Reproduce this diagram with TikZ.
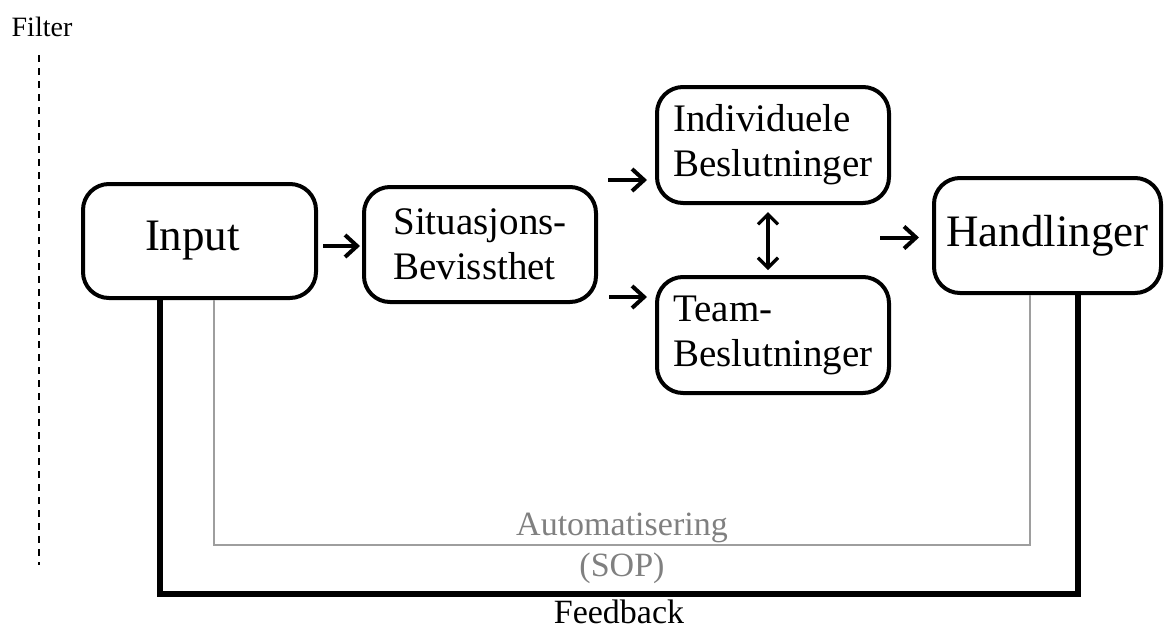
\documentclass[tikz,border=0pt]{standalone}
\usepackage{fontspec}
\setmainfont{Liberation Serif}
\usetikzlibrary{positioning,arrows.meta,calc}
\tikzset{
  box/.style  = {rectangle, draw, rounded corners=13pt, line width=2pt,
                 minimum width=116pt, minimum height=58pt,
                 align=left, inner sep=0pt,
                 font=\fontsize{19.5}{22.5}\selectfont},
  big/.style  = {box, font=\fontsize{22.5}{26}\selectfont},
  arr/.style  = {-{Straight Barb[length=6pt,width=11pt]}, line width=2pt},
  dbl/.style  = {{Straight Barb[length=5pt,width=10pt]}-{Straight Barb[length=5pt,width=10pt]}, line width=1.6pt},
  fb/.style   = {line width=2.75pt},
  auto/.style = {line width=0.9pt, draw=black!38},
  lab/.style  = {font=\fontsize{17}{20}\selectfont, anchor=base, inner sep=0pt},
  glab/.style = {lab, text=black!50}
}

\begin{document}
\begin{tikzpicture}[x=0.5pt,y=-0.5pt]
  \useasboundingbox (0,0) rectangle (1164,628);
  \node[lab,font=\fontsize{14}{16}\selectfont] (filter) at (42,36) {Filter};
  \draw[line width=1pt,dash pattern=on 3.5pt off 3pt] (39,55) -- (39,565);
  \node[big,minimum width=116.5pt,minimum height=57pt] (inp) at (199.5,241) {Input\hspace*{7pt}};
  \node[box,minimum height=57.5pt] (sit) at (480,244.5) {Situasjons-\\Bevissthet};
  \node[box] (ind) at (773,145) {Individuele\\Beslutninger};
  \node[box] (team) at (773,335) {Team-\\Beslutninger};
  \node[big,minimum width=113.5pt,minimum height=57.5pt] (hand) at (1047.5,235.5) {Handlinger};
  \draw[arr] ($(inp.east)+(5,5)$) -- ($(sit.west |- inp.east)+(-2,5)$);
  \draw[arr] ($(sit.north east)+(10,-5)$) -- ($(ind.west |- sit.north east)+(-8,-5)$);
  \draw[arr] ($(sit.south east)+(11,-7)$) -- ($(team.west |- sit.south east)+(-8,-7)$);
  \draw[dbl] ($(ind.south)+(-5,7)$) -- ($(team.north)+(-5,-5)$);
  \draw[arr] ($(hand.west)+(-52,2)$) -- ($(hand.west)+(-13,2)$);
  \draw[auto] ($(inp.south)+(14.5,0)$) -- ++(0,245)
    -| node[glab,pos=.25,yshift=5pt] {Automatisering}
       node[glab,pos=.25,yshift=-15.5pt] {(SOP)}
       ($(hand.south)+(-17.5,0)$);
  \draw[fb] ($(inp.south)+(-39.5,0)$) -- ++(0,294)
    -| node[lab,pos=.25,yshift=-14.5pt] {Feedback}
       ($(hand.south)+(30.5,0)$);
\end{tikzpicture}
\end{document}
